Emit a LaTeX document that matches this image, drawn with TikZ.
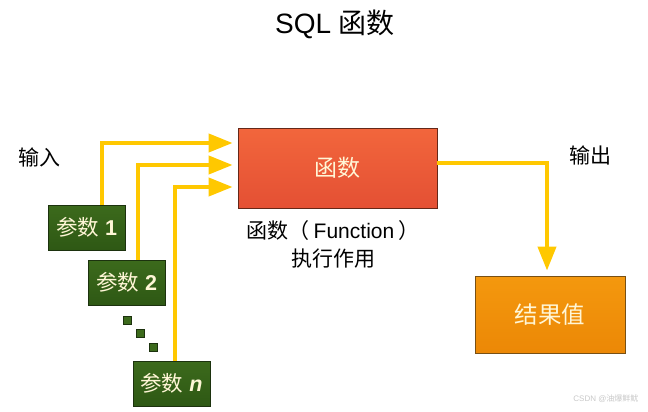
\documentclass[tikz,border=0pt]{standalone}
\usepackage{fontspec}
\setmainfont{Liberation Sans}
\newfontfamily\cjk{Noto Sans CJK SC}
\usetikzlibrary{arrows.meta}
\definecolor{arrowyellow}{RGB}{255,200,0}
\definecolor{funcfill}{RGB}{242,102,60}
\definecolor{funcdark}{RGB}{228,80,52}
\definecolor{funcborder}{RGB}{100,40,25}
\definecolor{parfill}{RGB}{60,106,28}
\definecolor{pardark}{RGB}{46,88,20}
\definecolor{parborder}{RGB}{28,50,14}
\definecolor{resfill}{RGB}{244,152,14}
\definecolor{resdark}{RGB}{236,136,6}
\definecolor{resborder}{RGB}{120,80,20}
\definecolor{boxtext}{RGB}{255,246,214}
\definecolor{wmgray}{RGB}{200,200,200}
\tikzset{
  funcbox/.style={draw=funcborder, line width=0.8pt, top color=funcfill, bottom color=funcdark, minimum width=199pt, minimum height=80pt, inner sep=0pt, text=boxtext, font=\cjk\fontsize{23}{26}\selectfont},
  parbox/.style={draw=parborder, line width=0.8pt, top color=parfill, bottom color=pardark, minimum width=77pt, minimum height=45pt, inner sep=0pt, text=boxtext, font=\fontsize{21.5}{24}\selectfont},
  resbox/.style={draw=resborder, line width=0.8pt, top color=resfill, bottom color=resdark, minimum width=150pt, minimum height=77pt, inner sep=0pt, text=boxtext, font=\cjk\fontsize{23.5}{26}\selectfont},
  dotbox/.style={draw=parborder, line width=0.6pt, fill=parfill, minimum size=8pt, inner sep=0pt},
  flow/.style={draw=arrowyellow, line width=4pt, shorten >=5pt, -{Triangle[length=24pt, width=18pt]}},
  lbl/.style={font=\cjk\fontsize{21}{25}\selectfont, text=black, inner sep=0pt},
}
\begin{document}
\begin{tikzpicture}[x=1pt, y=-1pt]
\useasboundingbox (0,0) rectangle (648,412);
\node (title) at (335,24) {\fontsize{28}{32}\selectfont SQL {\cjk 函数}};
\node[lbl] (in) at (40,157) {输入};
\node[lbl] (out) at (590,155) {输出};
\node[funcbox] (func) at (337.5,168) {函数};
\node[lbl, align=center] (flbl) at (333,244) {函数（ {\fontspec{Liberation Sans}Function} ）\\[3pt]执行作用};
\node[parbox] (p1) at (86.5,227.5) {{\cjk 参数} \textbf{1}};
\node[parbox] (p2) at (126.5,282.5) {{\cjk 参数} \textbf{2}};
\node[parbox] (pn) at (171.5,383.5) {{\cjk 参数} \textbf{\textit{n}}};
\node[dotbox] (d1) at (127,320) {};
\node[dotbox] (d2) at (140,333) {};
\node[dotbox] (d3) at (153,347) {};
\node[resbox] (res) at (550,314.5) {结果值};
\coordinate (c1) at (102,143);
\coordinate (c2) at (138,165);
\coordinate (c3) at (175,187);
\draw[flow] (p1.north -| c1) |- (c1 -| func.west);
\draw[flow] (p2.north -| c2) |- (c2 -| func.west);
\draw[flow] (pn.north -| c3) |- (c3 -| func.west);
\coordinate (o1) at (547,163);
\draw[flow] (func.east |- o1) -| (res.north -| o1);
\node[font=\fontsize{8}{10}\selectfont, text=wmgray, anchor=east] (wm) at (642,399) {CSDN @{\cjk 油爆鲜鱿}};
\end{tikzpicture}
\end{document}
